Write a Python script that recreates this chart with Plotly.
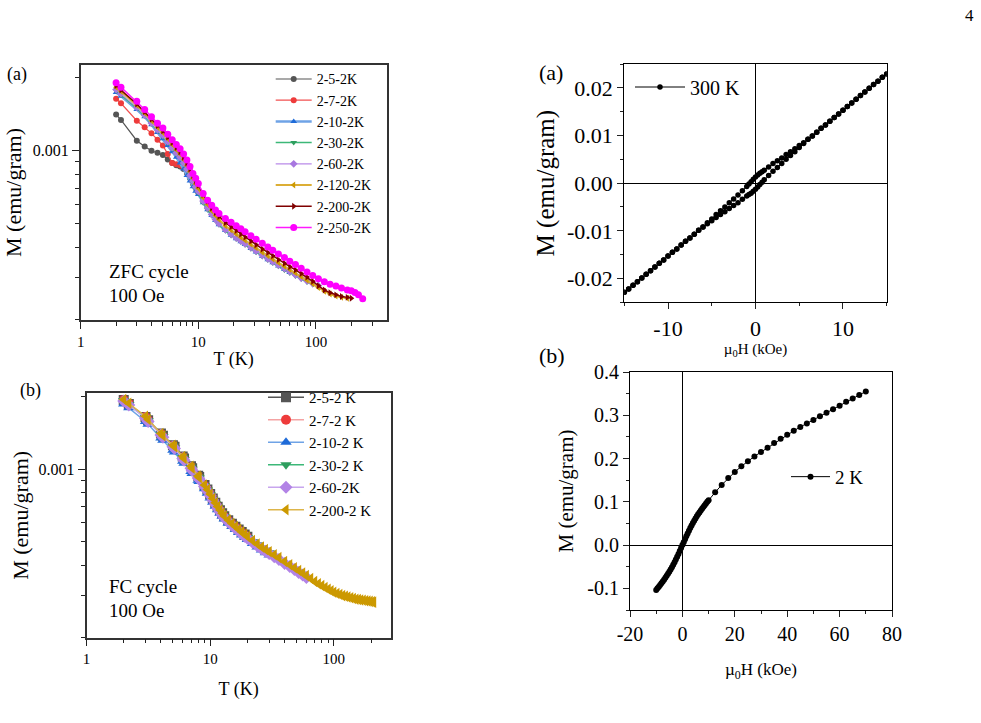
import plotly.graph_objects as go

# ---------------- data ----------------
# ZFC (panel a, left) temperatures in K
T_ZFC = [2, 2.2, 3, 3.5, 4, 4.5, 5, 5.5, 6, 6.5, 7, 7.5, 8, 8.5, 9, 9.5, 10, 11, 12, 13,
         14, 15, 17, 19, 21, 23, 25, 28, 31, 35, 39, 43, 48, 54, 60, 67, 75, 84, 94, 105,
         118, 132, 148, 165, 185, 200, 215, 230, 250]

ZFC_names = ["2-5-2K", "2-7-2K", "2-10-2K", "2-30-2K", "2-60-2K", "2-120-2K", "2-200-2K", "2-250-2K"]

M_zfc_2_5 = [0.00141, 0.00134, 0.0011, 0.00104, 0.001, 0.00098, 0.00096, 0.00092, 0.00089, 0.00087,
             0.00086, 0.00084, 0.00081, 0.00077, 0.00073, 0.0007, 0.00067, 0.00062, 0.00058]
M_zfc_2_7 = [0.00164, 0.00157, 0.00133, 0.00125, 0.00118, 0.00111, 0.00105, 0.00097, 0.00089, 0.00088,
             0.00087, 0.00085, 0.00082, 0.00078, 0.00074, 0.00071, 0.00068, 0.00063, 0.00059]
M_zfc_2_10 = [0.00174, 0.00168, 0.00148, 0.00138, 0.00128, 0.00119, 0.00112, 0.00105, 0.00099, 0.00094,
              0.00089, 0.00084, 0.00079, 0.00075, 0.00071, 0.00068, 0.00066, 0.00061, 0.00057, 0.00054,
              0.000515, 0.000495, 0.000468, 0.000448, 0.000433, 0.000421, 0.00041, 0.000395, 0.000382, 0.000367,
              0.000355, 0.000345, 0.000334, 0.000323, 0.000314]
M_zfc_2_30 = [0.00177, 0.0017, 0.0015, 0.00139, 0.00129, 0.00121, 0.00115, 0.00108, 0.00102, 0.00097,
              0.00093, 0.00088, 0.00083, 0.00078, 0.00074, 0.0007, 0.00067, 0.00061, 0.00057, 0.00054,
              0.000515, 0.000495, 0.000467, 0.000447, 0.000432, 0.00042, 0.000409, 0.000394, 0.000381, 0.000366,
              0.000354, 0.000344, 0.000333, 0.000322, 0.000313, 0.000304, 0.000295, 0.000287, 0.00028]
M_zfc_2_60 = [0.00179, 0.00172, 0.00151, 0.0014, 0.0013, 0.00122, 0.00116, 0.00109, 0.00103, 0.00098,
              0.00094, 0.00089, 0.00084, 0.00079, 0.00075, 0.00071, 0.00068, 0.00062, 0.00058, 0.000545,
              0.00052, 0.0005, 0.000472, 0.000452, 0.000437, 0.000424, 0.000413, 0.000398, 0.000385, 0.00037,
              0.000358, 0.000348, 0.000337, 0.000326, 0.000317, 0.000307, 0.000298, 0.00029, 0.000283, 0.000277]
M_zfc_2_120 = [0.00183, 0.00176, 0.00154, 0.00143, 0.00133, 0.00125, 0.00119, 0.00112, 0.00106, 0.00101,
               0.00097, 0.00092, 0.00087, 0.00082, 0.00077, 0.00073, 0.0007, 0.00064, 0.0006, 0.000565,
               0.00054, 0.00052, 0.00049, 0.00047, 0.000453, 0.000439, 0.000427, 0.000411, 0.000397, 0.000381,
               0.000368, 0.000357, 0.000345, 0.000333, 0.000323, 0.000313, 0.000302, 0.000292, 0.000282, 0.000272,
               0.000263, 0.000256, 0.000251, 0.000248, 0.000246]
M_zfc_2_200 = [0.00186, 0.00178, 0.00156, 0.00145, 0.00135, 0.00127, 0.00121, 0.00114, 0.00108, 0.00103,
               0.00099, 0.00094, 0.00089, 0.00084, 0.00079, 0.00075, 0.00072, 0.00066, 0.00062, 0.00058,
               0.000555, 0.000535, 0.000505, 0.000485, 0.000468, 0.000453, 0.00044, 0.000424, 0.000409, 0.000393,
               0.00038, 0.000368, 0.000355, 0.000343, 0.000332, 0.000322, 0.000311, 0.000301, 0.000289, 0.000277,
               0.000266, 0.000259, 0.000254, 0.00025, 0.000248, 0.000246]
M_zfc_2_250 = [0.00191, 0.00183, 0.0016, 0.00148, 0.00138, 0.0013, 0.00124, 0.00117, 0.00111, 0.00106,
               0.00102, 0.00097, 0.000915, 0.00086, 0.000805, 0.00077, 0.000733, 0.000666, 0.000625, 0.000595,
               0.000569, 0.00055, 0.000525, 0.000506, 0.00049, 0.000476, 0.000463, 0.000446, 0.000431, 0.000415,
               0.0004, 0.000388, 0.000375, 0.000362, 0.00035, 0.000339, 0.000327, 0.000316, 0.000305, 0.000296,
               0.000288, 0.000281, 0.000276, 0.000271, 0.000266, 0.000264, 0.00026, 0.000254, 0.000245]

# FC (panel b, left)
T_FC = [2, 2.2, 3, 3.15, 4, 4.15, 5, 5.15, 6, 6.15, 7, 7.15, 8, 8.15, 9, 9.5, 10, 10.5, 11, 11.5,
        12, 12.5, 13, 14, 15, 16, 17, 18, 19, 20, 22, 24, 26, 28, 30, 33, 36, 40, 44, 48,
        52, 56, 60, 65, 70, 75, 80, 85, 90, 95, 100, 106, 112, 118, 124, 130, 137, 144, 151, 158,
        165, 173, 181, 189, 197, 205, 210]

FC_names = ["2-5-2 K", "2-7-2 K", "2-10-2 K", "2-30-2 K", "2-60-2K", "2-200-2 K"]

M_fc_2_5 = [0.00194, 0.00187, 0.00165, 0.0016, 0.00141, 0.00138, 0.00126, 0.00124, 0.00113, 0.00111,
            0.00103, 0.00101, 0.00094, 0.00093, 0.00086, 0.000825, 0.00079, 0.000757, 0.000727, 0.0007,
            0.000677, 0.000657, 0.000639, 0.000615, 0.000595, 0.000578, 0.000563, 0.000549, 0.000537, 0.000525]
M_fc_2_7 = [0.00194, 0.00187, 0.00165, 0.0016, 0.0014, 0.00137, 0.00125, 0.00123, 0.00112, 0.0011,
            0.00102, 0.001, 0.00093, 0.00092, 0.000855, 0.00082, 0.000785, 0.000752, 0.000722, 0.000696,
            0.000673, 0.000653, 0.000635, 0.000611, 0.000591, 0.000574, 0.000559, 0.000545, 0.000533, 0.000521]
M_fc_2_10 = [0.00187, 0.0018, 0.00158, 0.00154, 0.00135, 0.00132, 0.0012, 0.00118, 0.00108, 0.00106,
             0.00098, 0.00096, 0.0009, 0.00089, 0.00083, 0.000795, 0.00076, 0.00073, 0.000703, 0.000679,
             0.000658, 0.000639, 0.000622, 0.000598, 0.000579, 0.000562, 0.000547, 0.000534, 0.000522, 0.000511,
             0.000492, 0.000476, 0.000462, 0.000451, 0.000441]
M_fc_2_30 = [0.00193, 0.00186, 0.00164, 0.00159, 0.0014, 0.00137, 0.00125, 0.00123, 0.00112, 0.0011,
             0.00102, 0.001, 0.00093, 0.00092, 0.000855, 0.00082, 0.000785, 0.000752, 0.000722, 0.000696,
             0.000673, 0.000653, 0.000635, 0.000611, 0.000591, 0.000574, 0.000559, 0.000545, 0.000533, 0.000521,
             0.000502, 0.000486, 0.000472, 0.000461, 0.000451]
M_fc_2_60 = [0.00192, 0.00185, 0.00163, 0.00158, 0.00139, 0.00136, 0.00124, 0.00122, 0.00111, 0.00109,
             0.00101, 0.00099, 0.00092, 0.00091, 0.000848, 0.000813, 0.000778, 0.000746, 0.000716, 0.00069,
             0.000667, 0.000647, 0.00063, 0.000606, 0.000586, 0.000569, 0.000554, 0.00054, 0.000528, 0.000517,
             0.000498, 0.000482, 0.000468, 0.000457, 0.000447, 0.000434, 0.000422, 0.000407, 0.000395, 0.000384,
             0.000373, 0.000364, 0.000356]
M_fc_2_200 = [0.00195, 0.00188, 0.00166, 0.00161, 0.00141, 0.00138, 0.00126, 0.00124, 0.00113, 0.00111,
              0.00103, 0.00101, 0.000938, 0.000925, 0.000861, 0.000825, 0.00079, 0.000757, 0.000727, 0.000701,
              0.000678, 0.000658, 0.00064, 0.000616, 0.000596, 0.000579, 0.000564, 0.00055, 0.000538, 0.000526,
              0.000507, 0.00049, 0.000476, 0.000465, 0.000455, 0.000442, 0.00043, 0.000414, 0.000402, 0.00039,
              0.00038, 0.000371, 0.000362, 0.000352, 0.000342, 0.000335, 0.000329, 0.000323, 0.000318, 0.000313,
              0.000309, 0.000305, 0.000302, 0.000299, 0.000297, 0.000295, 0.000293, 0.000291, 0.000289, 0.000288,
              0.000287, 0.000286, 0.000285, 0.000284, 0.000283, 0.000282, 0.000281]

# M-H loop at 300 K (field in kOe)
H_300_down = [15, 14.5, 14, 13.5, 13, 12.5, 12, 11.5, 11, 10.5, 10, 9.5, 9, 8.5, 8, 7.5, 7, 6.5, 6, 5.5,
              5, 4.5, 4, 3.5, 3, 2.5, 2, 1.5, 1, 0.75, 0.5, 0.25, 0, -0.25, -0.5, -0.75, -1, -1.5, -2, -2.5,
              -3, -3.5, -4, -4.5, -5, -5.5, -6, -6.5, -7, -7.5, -8, -8.5, -9, -9.5, -10, -10.5, -11, -11.5,
              -12, -12.5, -13, -13.5, -14, -14.5, -15]
M_300_down = [0.0229, 0.0222, 0.0214, 0.0207, 0.0199, 0.0191, 0.0184, 0.0176, 0.0168, 0.0161,
              0.0153, 0.0145, 0.0138, 0.0130, 0.0122, 0.0115, 0.0107, 0.0099, 0.0092, 0.0085,
              0.0079, 0.0072, 0.0066, 0.0060, 0.0053, 0.0047, 0.0041, 0.0034, 0.0027, 0.0024,
              0.0021, 0.0017, 0.0013, 0.0008, 0.0003, -0.0002, -0.0007, -0.0016, -0.0025, -0.0033,
              -0.0041, -0.0050, -0.0058, -0.0066, -0.0075, -0.0083, -0.0092, -0.0099, -0.0107, -0.0115,
              -0.0122, -0.0130, -0.0138, -0.0145, -0.0153, -0.0161, -0.0168, -0.0176, -0.0184, -0.0191,
              -0.0199, -0.0207, -0.0214, -0.0222, -0.0229]
H_300_up = [-15, -14.5, -14, -13.5, -13, -12.5, -12, -11.5, -11, -10.5, -10, -9.5, -9, -8.5, -8, -7.5, -7,
            -6.5, -6, -5.5, -5, -4.5, -4, -3.5, -3, -2.5, -2, -1.5, -1, -0.75, -0.5, -0.25, 0, 0.25, 0.5,
            0.75, 1, 1.5, 2, 2.5, 3, 3.5, 4, 4.5, 5, 5.5, 6, 6.5, 7, 7.5, 8, 8.5, 9, 9.5, 10, 10.5, 11,
            11.5, 12, 12.5, 13, 13.5, 14, 14.5, 15]
M_300_up = [-0.0229, -0.0222, -0.0214, -0.0207, -0.0199, -0.0191, -0.0184, -0.0176, -0.0168, -0.0161,
            -0.0153, -0.0145, -0.0138, -0.0130, -0.0122, -0.0115, -0.0107, -0.0099, -0.0092, -0.0085,
            -0.0079, -0.0072, -0.0066, -0.0060, -0.0053, -0.0047, -0.0041, -0.0034, -0.0027, -0.0024,
            -0.0021, -0.0017, -0.0013, -0.0008, -0.0003, 0.0002, 0.0007, 0.0016, 0.0025, 0.0033,
            0.0041, 0.0050, 0.0058, 0.0066, 0.0075, 0.0083, 0.0092, 0.0099, 0.0107, 0.0115,
            0.0122, 0.0130, 0.0138, 0.0145, 0.0153, 0.0161, 0.0168, 0.0176, 0.0184, 0.0191,
            0.0199, 0.0207, 0.0214, 0.0222, 0.0229]

# M-H at 2 K
H_2K = [-10, -9.5, -9, -8.5, -8, -7.5, -7, -6.5, -6, -5.5, -5, -4.5, -4, -3.5, -3, -2.5, -2, -1.5, -1, -0.5,
        0, 0.5, 1, 1.5, 2, 2.5, 3, 3.5, 4, 4.5, 5, 5.5, 6, 6.5, 7, 7.5, 8, 8.5, 9, 9.5, 10,
        12.5, 15, 17.5, 20, 22.5, 25, 27.5, 30, 32.5, 35, 37.5, 40, 42.5, 45, 47.5, 50, 52.5, 55,
        57.5, 60, 62.5, 65, 67.5, 70]
M_2K = [-0.1037, -0.1, -0.0962, -0.0923, -0.0883, -0.0842, -0.08, -0.0756, -0.0711, -0.0664,
        -0.0615, -0.0564, -0.0511, -0.0455, -0.0396, -0.0334, -0.027, -0.0204, -0.0136, -0.0068,
        0.0, 0.0068, 0.0136, 0.0204, 0.027, 0.0334, 0.0396, 0.0455, 0.0511, 0.0564, 0.0615,
        0.0664, 0.0711, 0.0756, 0.08, 0.0842, 0.0883, 0.0923, 0.0962, 0.1, 0.1037,
        0.122, 0.139, 0.155, 0.169, 0.182, 0.194, 0.205, 0.215, 0.225, 0.236, 0.246, 0.255, 0.264,
        0.273, 0.281, 0.289, 0.298, 0.306, 0.314, 0.322, 0.331, 0.339, 0.347, 0.355]

# tick labels
logT_ticks = [1, 10, 100]
logT_ticktext = ["1", "10", "100"]
logT_minor = [2, 3, 4, 5, 6, 7, 8, 9, 20, 30, 40, 50, 60, 70, 80, 90, 200, 300]
logM_ticks = [0.001]
logM_ticktext = ["0.001"]
logM_minor = [0.0002, 0.0003, 0.0004, 0.0005, 0.0006, 0.0007, 0.0008, 0.0009, 0.002]
H300_ticks = [-10, 0, 10]
H300_ticktext = ["-10", "0", "10"]
M300_ticks = [-0.02, -0.01, 0.0, 0.01, 0.02]
M300_ticktext = ["-0.02", "-0.01", "0.00", "0.01", "0.02"]
H2_ticks = [-20, 0, 20, 40, 60, 80]
H2_ticktext = ["-20", "0", "20", "40", "60", "80"]
M2_ticks = [-0.1, 0.0, 0.1, 0.2, 0.3, 0.4]
M2_ticktext = ["-0.1", "0.0", "0.1", "0.2", "0.3", "0.4"]

# ---------------- styles ----------------
FONT = "Liberation Serif"
W, H = 981, 723


def px(x):
    return x / W


def py(y):
    return 1 - y / H


def f(size):
    return dict(family=FONT, size=size, color="black")


zfc_series = [M_zfc_2_5, M_zfc_2_7, M_zfc_2_10, M_zfc_2_30, M_zfc_2_60, M_zfc_2_120, M_zfc_2_200, M_zfc_2_250]
zfc_line = ["#555555", "#f25050", "#6fa3e6", "#3cb878", "#b98ae8", "#dcae35", "#800000", "#ff1aff"]
zfc_mark = ["#555555", "#ee3b3b", "#1f6bd8", "#2e9e5e", "#a877e0", "#cc9900", "#800000", "#ff00ff"]
zfc_sym = ["circle", "circle", "triangle-up", "triangle-down", "diamond", "triangle-left", "triangle-right", "circle"]
zfc_lw = [1.2, 1.2, 2.5, 1.5, 1.2, 2.0, 1.5, 1.5]
zfc_ms = [6, 6, 6, 6, 6, 6, 6, 7]

fc_series = [M_fc_2_5, M_fc_2_7, M_fc_2_10, M_fc_2_30, M_fc_2_60, M_fc_2_200]
fc_line = ["#555555", "#f4a3a3", "#6fa3e6", "#3cb878", "#c8a6ee", "#ddb54a"]
fc_mark = ["#555555", "#ee3b3b", "#1f6bd8", "#2e9e5e", "#b283e6", "#cc9900"]
fc_sym = ["square", "circle", "triangle-up", "triangle-down", "diamond", "triangle-left"]

fig = go.Figure()

for name, M, lc, mc, sym, lw, ms in zip(ZFC_names, zfc_series, zfc_line, zfc_mark, zfc_sym, zfc_lw, zfc_ms):
    fig.add_trace(go.Scatter(x=T_ZFC[:len(M)], y=M, name=name, mode="lines+markers",
                             line=dict(color=lc, width=lw),
                             marker=dict(symbol=sym, color=mc, size=ms, line=dict(width=0)),
                             xaxis="x", yaxis="y", legend="legend"))

for name, M, lc, mc, sym in zip(FC_names, fc_series, fc_line, fc_mark, fc_sym):
    fig.add_trace(go.Scatter(x=T_FC[:len(M)], y=M, name=name, mode="lines+markers",
                             line=dict(color=lc, width=1.5),
                             marker=dict(symbol=sym, color=mc, size=10, line=dict(width=0)),
                             xaxis="x2", yaxis="y2", legend="legend2"))

fig.add_trace(go.Scatter(x=H_300_down + H_300_up, y=M_300_down + M_300_up, name="300 K",
                         mode="lines+markers", line=dict(color="black", width=1),
                         marker=dict(symbol="circle", color="black", size=5.5),
                         xaxis="x3", yaxis="y3", legend="legend3"))

fig.add_trace(go.Scatter(x=H_2K, y=M_2K, name="2 K", mode="lines+markers",
                         line=dict(color="black", width=1),
                         marker=dict(symbol="circle", color="black", size=6),
                         xaxis="x4", yaxis="y4", legend="legend4"))

axis_common = dict(showgrid=False, showline=True, mirror=True, ticks="outside",
                   automargin=False, tickcolor="#222")

left_line = dict(linecolor="#333333", linewidth=1.5, tickwidth=1.2, ticklen=7)
right_line = dict(linecolor="black", linewidth=1.2, tickwidth=1.2, ticklen=6, zeroline=True,
                  zerolinecolor="black", zerolinewidth=1)


def minor_log(vals):
    return dict(tickmode="array", tickvals=vals, ticks="outside", ticklen=4, tickwidth=1.2, tickcolor="#222")


def minor_lin(d):
    return dict(dtick=d, tick0=0, ticks="outside", ticklen=3, tickwidth=1.2, tickcolor="#222")


MU_TITLE = "\u00b5<sub>0</sub>H (kOe)"

fig.update_layout(
    width=W, height=H, autosize=False,
    margin=dict(l=0, r=0, t=0, b=0),
    paper_bgcolor="white", plot_bgcolor="white",
    font=f(14),
    xaxis=dict(**axis_common, **left_line, type="log", range=[0, 2.602],
               domain=[px(80.7), px(386.7)], anchor="y",
               tickmode="array", tickvals=logT_ticks, ticktext=logT_ticktext,
               minor=minor_log(logT_minor), tickfont=f(15),
               title=dict(text="T (K)", font=f(18), standoff=4)),
    yaxis=dict(**axis_common, **left_line, type="log", range=[-3.699, -2.646],
               domain=[py(320), py(65)], anchor="x",
               tickmode="array", tickvals=logM_ticks, ticktext=logM_ticktext,
               minor=minor_log(logM_minor), tickfont=f(16),
               title=dict(text="M (emu/gram)", font=f(22), standoff=5)),
    xaxis2=dict(**axis_common, **left_line, type="log", range=[0, 2.46],
                domain=[px(86.5), px(390.7)], anchor="y2",
                tickmode="array", tickvals=logT_ticks, ticktext=logT_ticktext,
                minor=minor_log(logT_minor), tickfont=f(15),
                title=dict(text="T (K)", font=f(18), standoff=16)),
    yaxis2=dict(**axis_common, **left_line, type="log", range=[-3.699, -2.683],
                domain=[py(637.7), py(393)], anchor="x2",
                tickmode="array", tickvals=logM_ticks, ticktext=logM_ticktext,
                minor=minor_log(logM_minor), tickfont=f(16),
                title=dict(text="M (emu/gram)", font=f(22), standoff=4)),
    xaxis3=dict(**axis_common, **right_line, range=[-15, 15],
                domain=[px(624.3), px(886.7)], anchor="y3",
                tickmode="array", tickvals=H300_ticks, ticktext=H300_ticktext,
                minor=minor_lin(5), tickfont=f(22),
                title=dict(text=MU_TITLE, font=f(15), standoff=0)),
    yaxis3=dict(**axis_common, **right_line, range=[-0.025, 0.025],
                domain=[py(302.3), py(64)], anchor="x3",
                tickmode="array", tickvals=M300_ticks, ticktext=M300_ticktext,
                minor=minor_lin(0.005), tickfont=f(22),
                title=dict(text="M (emu/gram)", font=f(25), standoff=5)),
    xaxis4=dict(**axis_common, **right_line, range=[-20, 80],
                domain=[px(630), px(892)], anchor="y4",
                tickmode="array", tickvals=H2_ticks, ticktext=H2_ticktext,
                minor=minor_lin(10), tickfont=f(20),
                title=dict(text=MU_TITLE, font=f(17), standoff=19)),
    yaxis4=dict(**axis_common, **right_line, range=[-0.15, 0.4],
                domain=[py(610), py(372)], anchor="x4",
                tickmode="array", tickvals=M2_ticks, ticktext=M2_ticktext,
                minor=minor_lin(0.05), tickfont=f(20),
                title=dict(text="M (emu/gram)", font=f(21), standoff=7)),
    legend=dict(x=px(270.7), y=py(63.4), xanchor="left", yanchor="top", bgcolor="rgba(0,0,0,0)",
                font=f(14), itemwidth=36, tracegroupgap=0),
    legend2=dict(x=px(263), y=py(381), xanchor="left", yanchor="top", bgcolor="rgba(0,0,0,0)",
                 font=f(15), itemwidth=36, tracegroupgap=0),
    legend3=dict(x=px(630), y=py(67.5), xanchor="left", yanchor="top", bgcolor="rgba(0,0,0,0)",
                 font=f(20), itemwidth=50),
    legend4=dict(x=px(786), y=py(457.8), xanchor="left", yanchor="top", bgcolor="rgba(0,0,0,0)",
                 font=f(19), itemwidth=39),
    showlegend=True,
)

annots = [
    ("(a)", 5, 75, 18), ("(b)", 18, 390, 18),
    ("(a)", 537, 73, 22), ("(b)", 537, 355, 22),
    ("ZFC cycle", 107, 271.7, 19), ("100 Oe", 107, 295, 19),
    ("FC cycle", 107, 586.7, 19), ("100 Oe", 107, 610, 19),
    ("4", 963, 15, 17),
]
for text, x, y, s in annots:
    fig.add_annotation(text=text, x=px(x), y=py(y), xref="paper", yref="paper",
                       xanchor="left", yanchor="middle", showarrow=False, font=f(s))

fig.write_html("out.html")
